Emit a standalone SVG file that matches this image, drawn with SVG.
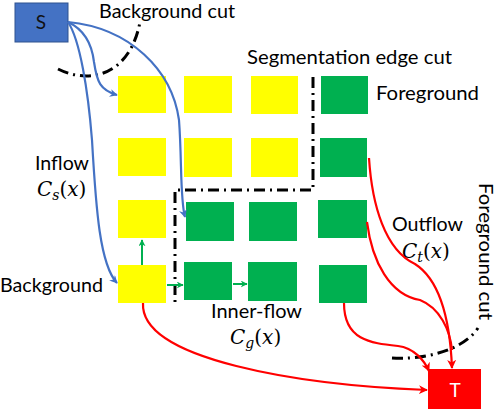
<svg xmlns="http://www.w3.org/2000/svg" width="498" height="410" viewBox="0 0 498 410">
<defs>
<marker id="ab" viewBox="0 0 10 10" refX="9" refY="5" markerWidth="8" markerHeight="8" markerUnits="userSpaceOnUse" orient="auto"><path d="M0,0 L10,5 L0,10 L3,5 Z" fill="#4472C4"/></marker>
<marker id="ar" viewBox="0 0 10 10" refX="9" refY="5" markerWidth="9" markerHeight="9" markerUnits="userSpaceOnUse" orient="auto"><path d="M0,0 L10,5 L0,10 L3,5 Z" fill="#FF0000"/></marker>
<marker id="ag" viewBox="0 0 10 10" refX="9" refY="5" markerWidth="7" markerHeight="7" markerUnits="userSpaceOnUse" orient="auto"><path d="M0,0 L10,5 L0,10 L3,5 Z" fill="#00B050"/></marker>
</defs>
<style>
.y{fill:#FFFF00}
.g{fill:#00B050}
.lbl{font-family:Lato,"Liberation Sans",sans-serif;font-size:19px;fill:#000}
.math{font-family:"DejaVu Serif","Liberation Serif",serif;font-style:italic;font-size:20px;fill:#000}
.cut{fill:none;stroke:#000;stroke-width:3;stroke-dasharray:11,5,2,5}
.blue{fill:none;stroke:#4472C4;stroke-width:2.2;marker-end:url(#ab)}
.red{fill:none;stroke:#FF0000;stroke-width:2.2}
.grn{fill:none;stroke:#00B050;stroke-width:2;marker-end:url(#ag)}
</style>
<rect width="498" height="410" fill="#fff"/>

<g id="S"><rect x="15" y="3" width="53" height="39" fill="#4472C4" stroke="#2F528F" stroke-width="1"/><text x="41" y="29" text-anchor="middle" font-family="Lato,'Liberation Sans',sans-serif" font-size="19" fill="#111">S</text></g>
<g id="T"><rect x="428" y="369" width="53" height="40" fill="#FF0000"/><text x="455" y="397" text-anchor="middle" font-family="Lato,'Liberation Sans',sans-serif" font-size="19" fill="#fff">T</text></g>

<g id="r1c1"><rect class="y" x="118" y="76" width="48" height="37"/></g>
<g id="r1c2"><rect class="y" x="184" y="76" width="48" height="37"/></g>
<g id="r1c3"><rect class="y" x="251" y="76" width="47" height="38"/></g>
<g id="r1c4"><rect class="g" x="321" y="76" width="47" height="38"/></g>
<g id="r2c1"><rect class="y" x="118" y="138" width="48" height="38"/></g>
<g id="r2c2"><rect class="y" x="184" y="138" width="48" height="39"/></g>
<g id="r2c3"><rect class="y" x="251" y="138" width="47" height="39"/></g>
<g id="r2c4"><rect class="g" x="320" y="138" width="47" height="39"/></g>
<g id="r3c1"><rect class="y" x="118" y="200" width="48" height="38"/></g>
<g id="r3c2"><rect class="g" x="186" y="202" width="48" height="39"/></g>
<g id="r3c3"><rect class="g" x="249" y="202" width="48" height="39"/></g>
<g id="r3c4"><rect class="g" x="318" y="200" width="49" height="38"/></g>
<g id="r4c1"><rect class="y" x="118" y="265" width="48" height="38"/></g>
<g id="r4c2"><rect class="g" x="184" y="262" width="48" height="38"/></g>
<g id="r4c3"><rect class="g" x="248" y="262" width="49" height="39"/></g>
<g id="r4c4"><rect class="g" x="319" y="265" width="48" height="38"/></g>

<g id="cuts">
<path class="cut" d="M58,69 C90,85 130,75 140,22"/>
<path class="cut" d="M313,77 V190 H175 V304"/>
<path class="cut" d="M392,358 C420,360 462,352 478,328"/>
</g>

<g id="connectors">
<path class="blue" d="M68,22 C85,30 92,45 94,62 C97,82 100,90 117,95"/>
<path class="blue" d="M68,22 C80,40 88,90 92,140 C96,210 100,265 117,283"/>
<path class="blue" d="M68,22 C130,28 172,70 179,120 C182,160 180,200 185,217"/>
<path class="grn" d="M142,265 V240"/>
<path class="grn" d="M167,285 H183"/>
<path class="grn" d="M233,284 H247"/>
<path class="red" marker-end="url(#ar)" d="M143,303 C140,360 300,385 427,390"/>
<path class="red" marker-end="url(#ar)" d="M344,303 C344,340 370,343 398,346 C414,348 424,360 429,371"/>
<path class="red" d="M367,222 C372,262 390,295 420,300 C440,308 450,330 452,350"/>
<path class="red" marker-end="url(#ar)" d="M369,158 C372,205 385,250 415,264 C440,280 450,320 452,368"/>
</g>

<g id="labels">
<text class="lbl" x="99" y="18" textLength="136" lengthAdjust="spacingAndGlyphs">Background cut</text>
<text class="lbl" x="247" y="64" textLength="205" lengthAdjust="spacingAndGlyphs">Segmentation edge cut</text>
<text class="lbl" x="376" y="100" textLength="103" lengthAdjust="spacingAndGlyphs">Foreground</text>
<text class="lbl" x="35" y="170" textLength="54" lengthAdjust="spacingAndGlyphs">Inflow</text>
<text class="math" x="37" y="196">C<tspan font-size="14" dy="4">s</tspan><tspan dy="-4" font-style="normal">(</tspan>x<tspan font-style="normal">)</tspan></text>
<text class="lbl" x="0" y="292" textLength="103" lengthAdjust="spacingAndGlyphs">Background</text>
<text class="lbl" x="211" y="318" textLength="91" lengthAdjust="spacingAndGlyphs">Inner-flow</text>
<text class="math" x="230" y="344">C<tspan font-size="14" dy="4">g</tspan><tspan dy="-4" font-style="normal">(</tspan>x<tspan font-style="normal">)</tspan></text>
<text class="lbl" x="392" y="231" textLength="71" lengthAdjust="spacingAndGlyphs">Outflow</text>
<text class="math" x="402" y="258">C<tspan font-size="14" dy="4">t</tspan><tspan dy="-4" font-style="normal">(</tspan>x<tspan font-style="normal">)</tspan></text>
<text class="lbl" transform="translate(479,183) rotate(90)" textLength="137" lengthAdjust="spacingAndGlyphs" font-size="18">Foreground cut</text>
</g>
</svg>
